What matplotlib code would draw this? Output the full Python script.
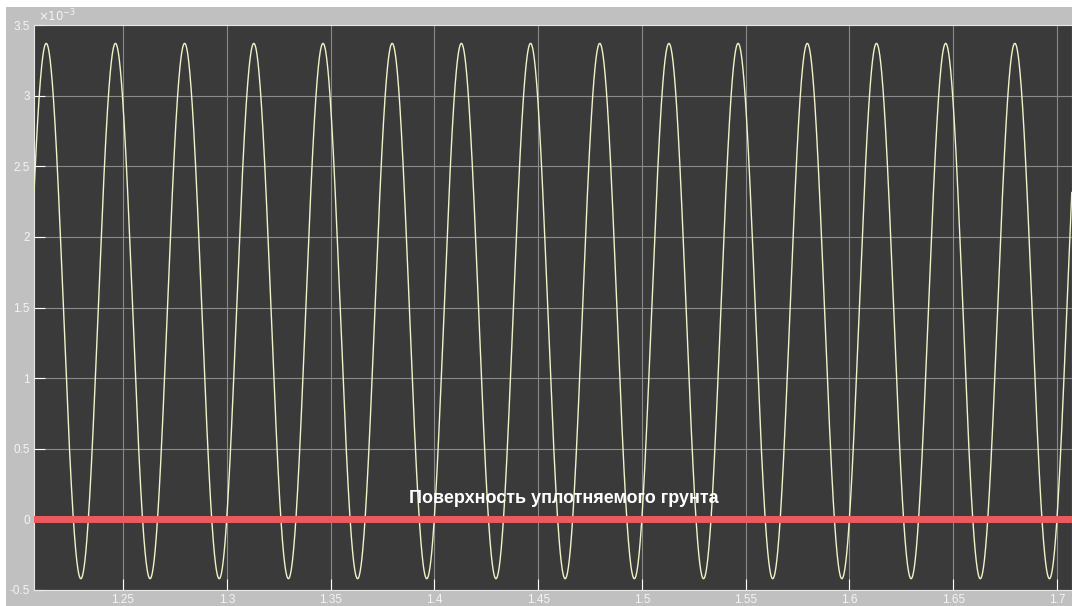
import numpy as np
import matplotlib.pyplot as plt
from matplotlib.patches import Rectangle

# signal (Simulink-like display)
freq_hz = 30.0            # 15 full periods over 0.5 s
amplitude = 1.895e-3      # peak 3.37e-3, trough -0.42e-3
offset = 1.475e-3
first_peak_t = 1.2130
t_start, t_end = 1.2071, 1.7072

surface_level = 0.0
surface_label = 'Поверхность уплотняемого грунта'

x_ticks = [1.25, 1.3, 1.35, 1.4, 1.45, 1.5, 1.55, 1.6, 1.65, 1.7]
x_labels = ['1.25', '1.3', '1.35', '1.4', '1.45', '1.5', '1.55', '1.6', '1.65', '1.7']
y_ticks = [-0.5e-3, 0, 0.5e-3, 1e-3, 1.5e-3, 2e-3, 2.5e-3, 3e-3, 3.5e-3]
y_labels = ['-0.5', '0', '0.5', '1', '1.5', '2', '2.5', '3', '3.5']

t = np.arange(t_start, t_end, 1e-4)
y = offset + amplitude * np.cos(2 * np.pi * freq_hz * (t - first_peak_t))

plt.rcParams['font.family'] = ['Liberation Sans', 'DejaVu Sans']

fig = plt.figure(figsize=(10.72, 6.06), dpi=100, facecolor='white')
fig.patches.append(Rectangle((6 / 1072, 0), 1, 1 - 7 / 606, transform=fig.transFigure,
                             facecolor='#c0c0c0', edgecolor='none', zorder=-10))
ax = fig.add_axes([34 / 1072, 16 / 606, 1 - 34 / 1072, (590 - 25) / 606])
ax.set_facecolor('#3a3a3a')

ax.plot(t, y, color='#f2f2c8', lw=1.0, zorder=3)
ax.axhline(surface_level, color='#ec5a5f', lw=5, zorder=4)
ax.text(1.4626, 0.15e-3, surface_label, color='white', fontsize=13, fontweight='bold',
        ha='center', va='center', zorder=5)

ax.set_xlim(t_start, t_end)
ax.set_ylim(-0.5e-3, 3.5e-3)
ax.set_xticks(x_ticks)
ax.set_xticklabels(x_labels)
ax.set_yticks(y_ticks)
ax.set_yticklabels(y_labels)
ax.tick_params(direction='in', length=8, color='white', labelcolor='#f4f4f4',
               labelsize=8.5, pad=3)
ax.grid(True, color='#8a8a8a', lw=0.8)
for s in ax.spines.values():
    s.set_color('#e8e8e8')

fig.text(38 / 1072, 1 - 16 / 606, r'$\times10^{-3}$', color='#f4f4f4', fontsize=8.5,
         ha='left', va='center')

fig.savefig('out.png', dpi=100, facecolor=fig.get_facecolor())
